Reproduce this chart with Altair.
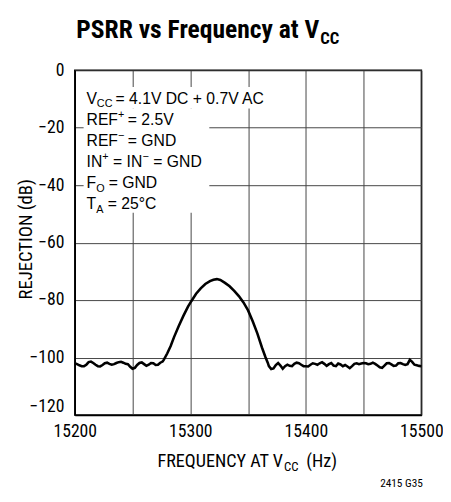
import altair as alt
import pandas as pd

# ---------------- data ----------------
left_freq = list(range(15200, 15278, 2))
left_db = [-102.0, -102.3, -102.7, -103.0, -103.0, -102.5, -101.6, -101.4, -101.9, -102.5,
           -103.0, -103.1, -102.6, -102.0, -101.8, -102.2, -102.5, -102.3, -101.9, -101.6,
           -101.5, -101.8, -102.2, -102.3, -103.2, -103.9, -103.6, -102.6, -101.9, -101.7,
           -102.3, -102.9, -102.5, -101.9, -102.0, -102.6, -102.5, -101.8, -101.4]

peak_freq = [15277, 15280, 15283, 15286, 15290, 15294, 15298, 15301, 15305, 15309, 15313,
             15317, 15320, 15323, 15326, 15330, 15334, 15338, 15342, 15346, 15350, 15354,
             15358, 15362, 15365, 15367]
peak_db = [-100.8, -98.6, -96.0, -92.8, -89.0, -85.5, -82.3, -80.3, -77.8, -75.9, -74.4,
           -73.4, -72.9, -72.7, -73.0, -74.0, -75.2, -76.8, -78.6, -80.8, -83.6, -87.4,
           -91.6, -96.5, -99.8, -101.8]

right_freq = list(range(15368, 15502, 2))
right_db = [-103.0, -104.0, -103.8, -102.6, -101.9, -102.8, -103.9, -103.0, -102.5, -102.9,
            -103.0, -102.2, -101.8, -102.0, -102.5, -103.0, -103.0, -103.1, -102.5, -102.0,
            -102.2, -102.5, -102.0, -101.6, -102.2, -102.9, -102.3, -101.9, -102.8, -103.0,
            -102.1, -102.4, -103.0, -102.6, -103.1, -103.7, -103.0, -102.2, -102.0, -102.3,
            -102.1, -101.9, -102.0, -102.3, -102.2, -101.8, -102.2, -102.8, -103.4, -103.6,
            -102.8, -102.0, -101.9, -102.4, -102.9, -102.8, -102.0, -101.9, -102.3, -102.6,
            -102.3, -100.8, -101.5, -102.5, -102.7, -102.9, -103.0]

x_ticks = [15200, 15250, 15300, 15350, 15400, 15450, 15500]
y_ticks = [-120, -100, -80, -60, -40, -20, 0]

freq = left_freq + peak_freq + right_freq
db = left_db + peak_db + right_db
n = min(len(freq), len(db))
df = pd.DataFrame({"f": freq[:n], "db": db[:n]})

# ---------------- layout ----------------
FONT = "Roboto Condensed, Liberation Sans, sans-serif"
FONT_R = "Liberation Sans, Arial, sans-serif"
OX, OY = 76, 67   # plot origin on the page
W, H = 353, 351

one = alt.Data(values=[{}])


def txt(s, x, y, size, weight="normal", font=FONT, angle=0, align="left"):
    return alt.Chart(one).mark_text(
        text=s, align=align, baseline="alphabetic", fontSize=size,
        fontWeight=weight, font=font, angle=angle, color="black"
    ).encode(x=alt.value(x - OX), y=alt.value(y - OY))


def box(x1, x2, y1, y2):
    return alt.Chart(one).mark_rect(color="white").encode(
        x=alt.value(x1 - OX), x2=alt.value(x2 - OX),
        y=alt.value(y1 - OY), y2=alt.value(y2 - OY))


line = alt.Chart(df).mark_line(color="black", strokeWidth=2.6).encode(
    x=alt.X("f:Q", scale=alt.Scale(domain=[15200, 15500], nice=False, zero=False),
            axis=alt.Axis(values=x_ticks, format="d",
                          labelExpr="datum.value % 100 == 0 ? datum.label : ''",
                          title=None, grid=True, tickSize=0, labelPadding=8,
                          labelFontSize=18, labelFont=FONT, labelColor="black",
                          domainColor="black", domainWidth=1.5,
                          gridColor="#444", gridWidth=1, labelFlush=False)),
    y=alt.Y("db:Q", scale=alt.Scale(domain=[-120, 0], nice=False),
            axis=alt.Axis(values=y_ticks, title=None, grid=True, tickSize=0,
                          labelPadding=11, labelFontSize=18, labelFont=FONT,
                          labelColor="black", domainColor="black", domainWidth=1.5,
                          gridColor="#444", gridWidth=1,
                          labelBaseline={"condition": {"test": "datum.value == -120",
                                                       "value": "bottom"},
                                         "value": "middle"})),
)

TS = 16
SS = 11
layers = [
    line,
    box(85, 270, 84, 106),
    box(85, 213, 106, 212),
    # annotation block
    txt("V", 88, 101, TS, font=FONT_R), txt("CC", 98.5, 104, SS, font=FONT_R),
    txt("= 4.1V DC + 0.7V AC", 117.5, 101, TS, font=FONT_R),
    txt("REF", 88, 123, TS, font=FONT_R), txt("+", 120, 116, SS, font=FONT_R),
    txt("= 2.5V", 130, 123, TS, font=FONT_R),
    txt("REF", 88, 144, TS, font=FONT_R), txt("\u2212", 120, 137, SS, font=FONT_R),
    txt("= GND", 130, 144, TS, font=FONT_R),
    txt("IN", 88, 165.5, TS, font=FONT_R), txt("+", 104, 158.5, SS, font=FONT_R),
    txt("= IN", 115, 165.5, TS, font=FONT_R), txt("\u2212", 145, 158.5, SS, font=FONT_R),
    txt("= GND", 156, 165.5, TS, font=FONT_R),
    txt("F", 88, 187, TS, font=FONT_R), txt("O", 97.8, 191, SS, font=FONT_R),
    txt("= GND", 110.5, 187, TS, font=FONT_R),
    txt("T", 88, 208.5, TS, font=FONT_R), txt("A", 97.8, 212.5, SS, font=FONT_R),
    txt("= 25\u00b0C", 109.5, 208.5, TS, font=FONT_R),
    # title
    txt("PSRR vs Frequency at V", 325, 34, 26, weight="bold", align="right"),
    txt("CC", 326, 40, 17, weight="bold"),
    # axis titles
    txt("FREQUENCY AT V", 288, 471, 18.5, align="right"),
    txt("CC", 289, 475, 13),
    txt("(Hz)", 343, 471, 18.5, align="right"),
    txt("REJECTION (dB)", 32, 239, 19, angle=270, align="center"),
    # figure id
    txt("2415 G35", 387, 491, 11.5),
]

chart = alt.layer(*layers).properties(
    width=W, height=H,
    autosize=alt.AutoSizeParams(type="none"),
    padding={"left": OX - 8, "top": OY - 8, "right": 22, "bottom": 76},
).configure_view(stroke="black", strokeWidth=1.5)

chart.save("out.html", embed_options={"renderer": "svg", "actions": False})
